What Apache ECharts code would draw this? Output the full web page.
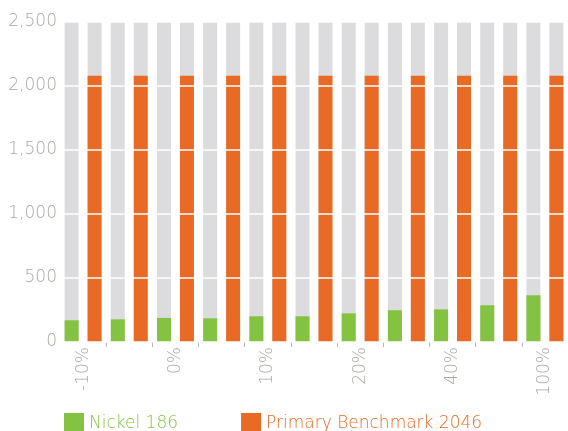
<!DOCTYPE html>
<html>
<head>
<meta charset="utf-8">
<script src="https://cdn.jsdelivr.net/npm/echarts@6/dist/echarts.min.js"></script>
<style>
  html, body { margin: 0; padding: 0; background: #fff; }
  #chart { width: 568px; height: 431px; }
</style>
</head>
<body>
<div id="chart"></div>
<script>
// values
var categories = ["-10%", "-5%", "0%", "5%", "10%", "15%", "20%", "30%", "40%", "50%", "100%"];
var nickel = [170, 177, 188, 185, 201, 201, 224, 248, 255, 287, 365];
var benchmark = [2080, 2080, 2080, 2080, 2080, 2080, 2080, 2080, 2080, 2080, 2080];
var yTicks = [0, 500, 1000, 1500, 2000, 2500];

var font = "DejaVu Sans";
var grey = "#a3aaa0";

var myChart = echarts.init(document.getElementById("chart"));
var option = {
  animation: false,
  grid: { left: 60, right: -10, top: 22, bottom: 89, containLabel: false },
  legend: {
    left: 59,
    top: 408,
    itemWidth: 20,
    itemHeight: 21,
    itemGap: 63,
    icon: "rect",
    textStyle: { fontFamily: font, fontSize: 17, fontWeight: 200 },
    data: [
      { name: "Nickel 186", textStyle: { color: "#84c341" } },
      { name: "Primary Benchmark 2046", textStyle: { color: "#e86a25" } }
    ]
  },
  xAxis: {
    type: "category",
    data: categories,
    axisLine: { show: false },
    axisTick: {
      show: true,
      length: 5,
      interval: function (index) { return index !== 0; },
      lineStyle: { color: "#b5b8b3" }
    },
    axisLabel: {
      interval: 1,
      rotate: 90,
      margin: 5,
      color: grey,
      fontFamily: font,
      fontSize: 17,
      fontWeight: 200
    }
  },
  yAxis: {
    type: "value",
    min: yTicks[0],
    max: yTicks[yTicks.length - 1],
    interval: 500,
    z: 5,
    axisLine: { show: false },
    axisTick: { show: false },
    axisLabel: {
      margin: 3,
      color: grey,
      fontFamily: font,
      fontSize: 17,
      fontWeight: 200,
      formatter: function (v) { return v.toLocaleString("en-US"); }
    },
    splitLine: { show: true, lineStyle: { color: "#ffffff", width: 1.5 } }
  },
  series: [
    {
      name: "Nickel 186",
      type: "bar",
      data: nickel,
      barWidth: 14,
      barGap: "64%",
      itemStyle: { color: "#84c341" },
      showBackground: true,
      backgroundStyle: { color: "#dcdcde" }
    },
    {
      name: "Primary Benchmark 2046",
      type: "bar",
      data: benchmark,
      barWidth: 14,
      itemStyle: { color: "#e86a25" },
      showBackground: true,
      backgroundStyle: { color: "#dcdcde" }
    }
  ]
};
myChart.setOption(option);
</script>
</body>
</html>
